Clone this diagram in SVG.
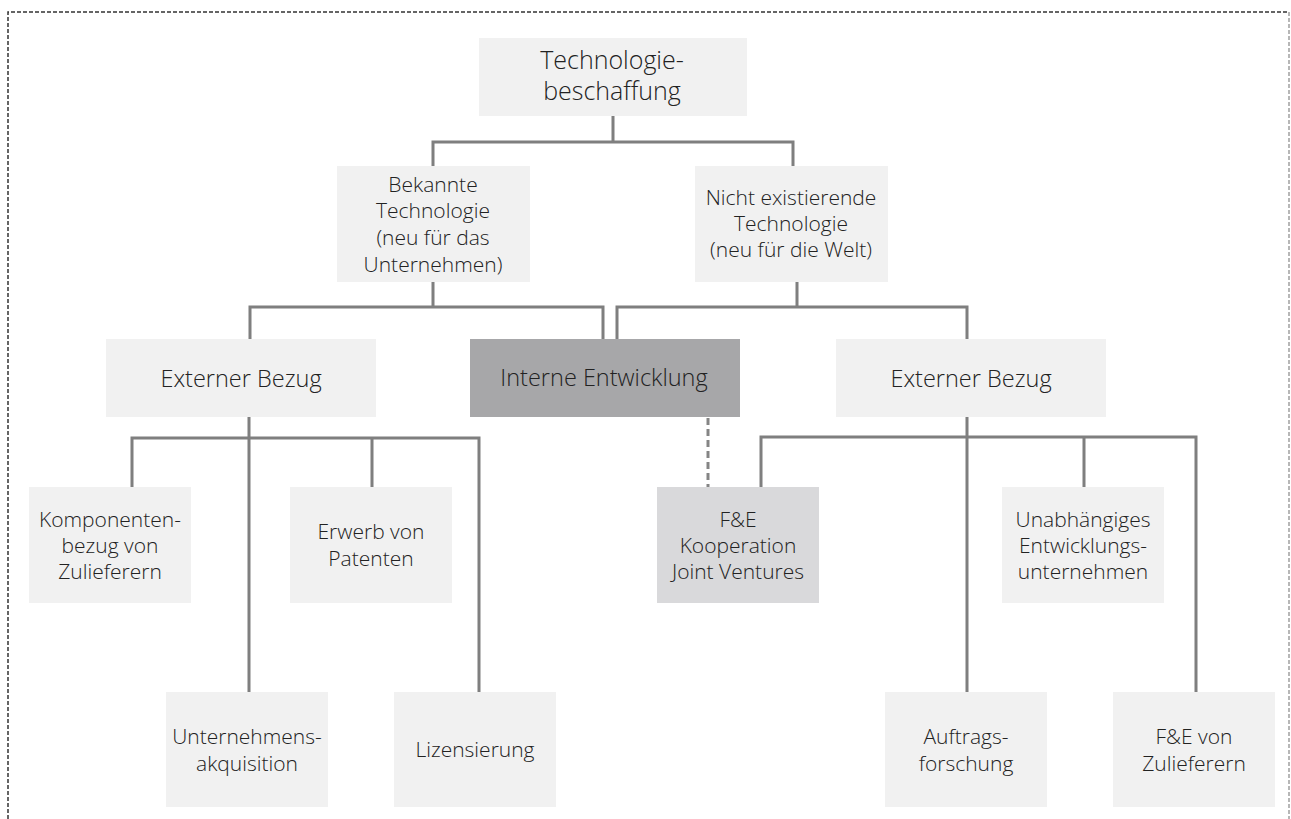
<svg xmlns="http://www.w3.org/2000/svg" width="1291" height="819" viewBox="0 0 1291 819">
  <style>
    .box { fill: #f1f1f1; }
    .box-dark { fill: #a7a7a9; }
    .box-mid { fill: #d9d9db; }
    text { font-family: "Open Sans", "Liberation Sans", sans-serif; font-weight: 300; fill: #222222; text-anchor: middle; }
    .t1 { font-size: 25px; }
    .t2 { font-size: 23.5px; }
    .t3 { font-size: 21px; }
    .link { fill: none; stroke: #7f7f7f; stroke-width: 3; stroke-linejoin: miter; }
    .link-dash { fill: none; stroke: #858585; stroke-width: 3; stroke-dasharray: 7 4; }
    .frame { fill: none; stroke: #333333; stroke-width: 1.5; stroke-dasharray: 4 2; }
    .frame-light { fill: none; stroke: #a0a0a0; stroke-width: 1.5; stroke-dasharray: 4 2; }
  </style>

  <!-- outer dashed frame -->
  <path class="frame" d="M8,819 V12 H1289"/>
  <path class="frame-light" d="M1289,12 V819"/>

  <!-- connectors -->
  <g id="connectors">
    <path class="link" d="M613,116 V142 M433,166 V142 H793 V166"/>
    <path class="link" d="M433,282 V307 M250,339 V307 H603 V339"/>
    <path class="link" d="M797,282 V307 M617,339 V307 H967 V339"/>
    <path class="link" d="M249,417 V692 M132,487 V438 H479 V692 M372,438 V487"/>
    <path class="link" d="M967,417 V692 M761,487 V437 H1196 V692 M1084,437 V487"/>
    <path class="link-dash" d="M708,418 V487"/>
  </g>

  <g id="n-technologiebeschaffung">
    <rect class="box" x="479" y="38" width="268" height="78"/>
    <text class="t1" x="612" y="69">Technologie-</text>
    <text class="t1" x="612" y="100">beschaffung</text>
  </g>

  <g id="n-bekannte">
    <rect class="box" x="337" y="166" width="193" height="116"/>
    <text class="t3" x="433" y="192">Bekannte</text>
    <text class="t3" x="433" y="218">Technologie</text>
    <text class="t3" x="433" y="245">(neu für das</text>
    <text class="t3" x="433" y="272">Unternehmen)</text>
  </g>

  <g id="n-nicht-existierende">
    <rect class="box" x="695" y="166" width="193" height="116"/>
    <text class="t3" x="791" y="205">Nicht existierende</text>
    <text class="t3" x="791" y="231">Technologie</text>
    <text class="t3" x="791" y="257">(neu für die Welt)</text>
  </g>

  <g id="n-extern-links">
    <rect class="box" x="106" y="339" width="270" height="78"/>
    <text class="t2" x="241" y="387">Externer Bezug</text>
  </g>

  <g id="n-intern">
    <rect class="box-dark" x="470" y="339" width="270" height="78"/>
    <text class="t2" x="604" y="386">Interne Entwicklung</text>
  </g>

  <g id="n-extern-rechts">
    <rect class="box" x="836" y="339" width="270" height="78"/>
    <text class="t2" x="971" y="387">Externer Bezug</text>
  </g>

  <g id="n-komponenten">
    <rect class="box" x="29" y="487" width="162" height="116"/>
    <text class="t3" x="110" y="527">Komponenten-</text>
    <text class="t3" x="110" y="553">bezug von</text>
    <text class="t3" x="110" y="579">Zulieferern</text>
  </g>

  <g id="n-patente">
    <rect class="box" x="290" y="487" width="162" height="116"/>
    <text class="t3" x="371" y="539">Erwerb von</text>
    <text class="t3" x="371" y="566">Patenten</text>
  </g>

  <g id="n-kooperation">
    <rect class="box-mid" x="657" y="487" width="162" height="116"/>
    <text class="t3" x="738" y="527">F&amp;E</text>
    <text class="t3" x="738" y="553">Kooperation</text>
    <text class="t3" x="738" y="579">Joint Ventures</text>
  </g>

  <g id="n-entwicklungsunternehmen">
    <rect class="box" x="1002" y="487" width="162" height="116"/>
    <text class="t3" x="1083" y="527">Unabhängiges</text>
    <text class="t3" x="1083" y="553">Entwicklungs-</text>
    <text class="t3" x="1083" y="579">unternehmen</text>
  </g>

  <g id="n-akquisition">
    <rect class="box" x="166" y="692" width="162" height="115"/>
    <text class="t3" x="247" y="744">Unternehmens-</text>
    <text class="t3" x="247" y="771">akquisition</text>
  </g>

  <g id="n-lizensierung">
    <rect class="box" x="394" y="692" width="162" height="115"/>
    <text class="t3" x="475" y="757">Lizensierung</text>
  </g>

  <g id="n-auftragsforschung">
    <rect class="box" x="885" y="692" width="162" height="115"/>
    <text class="t3" x="966" y="744">Auftrags-</text>
    <text class="t3" x="966" y="771">forschung</text>
  </g>

  <g id="n-fe-zulieferer">
    <rect class="box" x="1113" y="692" width="162" height="115"/>
    <text class="t3" x="1194" y="744">F&amp;E von</text>
    <text class="t3" x="1194" y="771">Zulieferern</text>
  </g>
</svg>
